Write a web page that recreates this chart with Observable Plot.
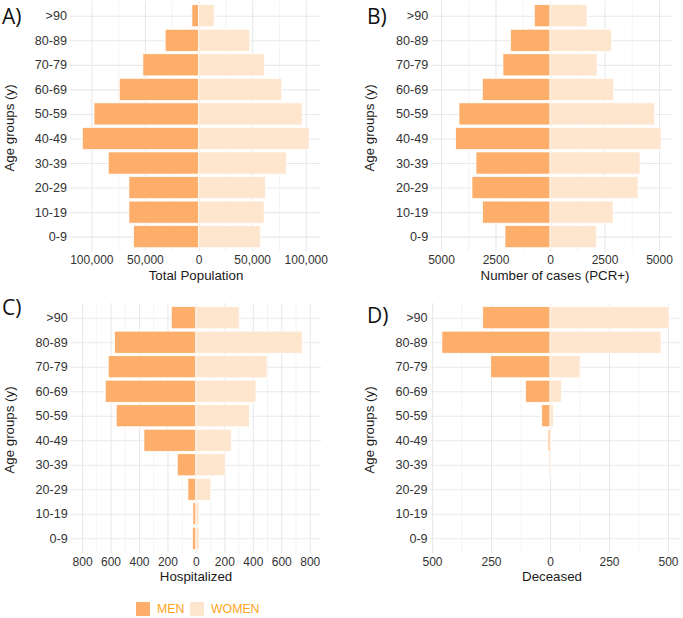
<!DOCTYPE html>
<html>
<head>
<meta charset="utf-8">
<script src="https://cdn.jsdelivr.net/npm/d3@7"></script>
<script src="https://cdn.jsdelivr.net/npm/@observablehq/plot@0.6"></script>
<style>
  body { margin: 0; background: #fff; font-family: "Liberation Sans", Arial, sans-serif; }
  #root { position: relative; width: 683px; height: 618px; overflow: hidden; background: #fff; }
  .panel { position: absolute; }
  .letter { position: absolute; font-family: "Open Sans", sans-serif; font-size: 21px; color: #111; line-height: 1; }
  .xtitle { position: absolute; font-size: 13.3px; color: #1a1a1a; white-space: nowrap; transform: translate(-50%, -50%); line-height: 1; }
  .ytitle { position: absolute; font-size: 13.3px; color: #1a1a1a; white-space: nowrap; transform: translate(-50%, -50%) rotate(-90deg); line-height: 1; }
  .sw { position: absolute; width: 14px; height: 14px; }
  .lg { position: absolute; font-size: 12.3px; color: #FFA41B; line-height: 1; transform: translateY(-50%); }
</style>
</head>
<body>
<div id="root"></div>
<script>
// Categories (bottom to top)
const ages = ["0-9", "10-19", "20-29", "30-39", "40-49", "50-59", "60-69", "70-79", "80-89", ">90"];
const sexes = ["MEN", "WOMEN"];

// A) Total population
const popMen   = [60600, 64900, 64900, 84200, 108400, 97500, 73900, 51900, 31100, 6200];
const popWomen = [57800, 61200, 62400, 82000, 103100, 96600, 77600, 61500, 47800, 14600];

// B) Number of cases (PCR+)
const casesMen   = [2064, 3089, 3578, 3394, 4327, 4174, 3104, 2156, 1804, 719];
const casesWomen = [2125, 2890, 4037, 4128, 5092, 4801, 2920, 2156, 2813, 1697];

// C) Hospitalized
const hospMen   = [23, 21, 56, 131, 365, 560, 637, 616, 571, 173];
const hospWomen = [23, 21, 105, 206, 248, 377, 422, 499, 747, 304];

// D) Deceased
const deadMen   = [0, 0, 0, 4, 8, 35, 104, 251, 458, 285];
const deadWomen = [0, 0, 0, 2, 5, 14, 49, 127, 470, 504];

// Tick labels
const ticksA = [-100000, -50000, 0, 50000, 100000];
const minorA = [-75000, -25000, 25000, 75000];
const ticksB = [-5000, -2500, 0, 2500, 5000];
const minorB = [-3750, -1250, 1250, 3750];
const ticksC = [-800, -600, -400, -200, 0, 200, 400, 600, 800];
const minorC = [-700, -500, -300, -100, 100, 300, 500, 700];
const ticksD = [-500, -250, 0, 250, 500];
const minorD = [-375, -125, 125, 375];

const colors = ["#FDAE6B", "#FEE6CE"];

const root = document.getElementById("root");

function panel(cfg) {
  const data = ages.flatMap((a, i) => [
    {age: a, sex: "MEN", v: -cfg.men[i]},
    {age: a, sex: "WOMEN", v: cfg.women[i]}
  ]);
  const chart = Plot.plot({
    width: cfg.width,
    height: cfg.height,
    marginTop: cfg.mt,
    marginBottom: cfg.mb,
    marginLeft: cfg.ml,
    marginRight: cfg.mr,
    style: {fontFamily: "'Liberation Sans', Arial, sans-serif", color: "#333", background: "transparent", overflow: "visible"},
    x: {domain: cfg.domain, label: null},
    y: {domain: ages.slice().reverse(), paddingInner: 0.1, paddingOuter: 0.15, round: false, label: null},
    color: {domain: sexes, range: colors},
    marks: [
      Plot.gridX(cfg.minor, {stroke: "#ececec", strokeOpacity: 1, strokeWidth: 0.6}),
      Plot.gridX(cfg.ticks, {stroke: "#e9e9e9", strokeOpacity: 1, strokeWidth: 1.1}),
      Plot.gridY({stroke: "#e9e9e9", strokeOpacity: 1, strokeWidth: 1.1}),
      Plot.barX(data, {x: "v", y: "age", fill: "sex", stroke: "white", strokeWidth: 0.7}),
      Plot.axisX(cfg.ticks, {tickSize: 0, tickPadding: 4, fontSize: 12, tickFormat: cfg.fmt, label: null}),
      Plot.axisY({tickSize: 0, tickPadding: 3.5, fontSize: 12.6, label: null})
    ]
  });
  chart.classList.add("panel");
  chart.style.left = cfg.left + "px";
  chart.style.top = cfg.top + "px";
  root.appendChild(chart);
}

const fmtComma = d => d3.format(",")(Math.abs(d));
const fmtAbs = d => String(Math.abs(d));

panel({men: popMen, women: popWomen, domain: [-120000, 113500], ticks: ticksA, minor: minorA, fmt: fmtComma,
  left: 0, top: 0, width: 340, height: 290, mt: 1, mb: 38.6, ml: 69.9, mr: 19.8});
panel({men: casesMen, women: casesWomen, domain: [-5450, 5560], ticks: ticksB, minor: minorB, fmt: fmtAbs,
  left: 341, top: 0, width: 342, height: 290, mt: 1, mb: 38.6, ml: 90.2, mr: 11.8});
panel({men: hospMen, women: hospWomen, domain: [-880, 880], ticks: ticksC, minor: minorC, fmt: fmtAbs,
  left: 0, top: 295, width: 340, height: 295, mt: 8, mb: 37, ml: 70.7, mr: 18.9});
panel({men: deadMen, women: deadWomen, domain: [-506, 552], ticks: ticksD, minor: minorD, fmt: fmtAbs,
  left: 341, top: 295, width: 342, height: 295, mt: 8, mb: 37, ml: 89.6, mr: 2.7});

function addDiv(cls, text, x, y, extra) {
  const d = document.createElement("div");
  d.className = cls;
  d.textContent = text;
  d.style.left = x + "px";
  d.style.top = y + "px";
  if (extra) Object.assign(d.style, extra);
  root.appendChild(d);
  return d;
}

// Panel letters
addDiv("letter", "A)", 2, 6);
addDiv("letter", "B)", 367, 6);
addDiv("letter", "C)", 2, 297);
addDiv("letter", "D)", 367, 305);

// Axis titles
addDiv("xtitle", "Total Population", 196, 276);
addDiv("xtitle", "Number of cases (PCR+)", 555, 276);
addDiv("xtitle", "Hospitalized", 196, 577);
addDiv("xtitle", "Deceased", 552, 577);
addDiv("ytitle", "Age groups (y)", 10, 128);
addDiv("ytitle", "Age groups (y)", 370, 128);
addDiv("ytitle", "Age groups (y)", 10, 430);
addDiv("ytitle", "Age groups (y)", 370, 430);

// Legend
addDiv("sw", "", 136, 602, {background: colors[0]});
addDiv("sw", "", 190, 602, {background: colors[1]});
addDiv("lg", "MEN", 157, 609);
addDiv("lg", "WOMEN", 211, 609);
</script>
</body>
</html>
